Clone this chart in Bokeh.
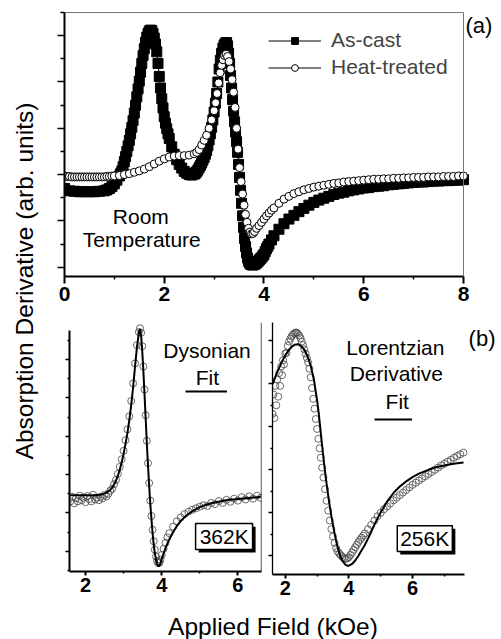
from bokeh.plotting import figure
from bokeh.models import (Range1d, FixedTicker, Label, Legend, LegendItem, Span,
                          BoxAnnotation, LinearAxis)
from bokeh.layouts import row, column
from bokeh.embed import file_html
from bokeh.resources import INLINE

FONT = "Liberation Sans"

# ---------------- (a) room temperature spectra ----------------
AC_X = [0.00, 0.10, 0.20, 0.30, 0.40, 0.50, 0.60, 0.70, 0.80, 0.85,
        0.90, 0.95, 1.00, 1.05, 1.100, 1.125, 1.150, 1.175, 1.200, 1.225,
        1.250, 1.275, 1.300, 1.325, 1.350, 1.375, 1.400, 1.425, 1.450, 1.475,
        1.500, 1.525, 1.550, 1.575, 1.600, 1.625, 1.650, 1.675, 1.700, 1.725,
        1.750, 1.775, 1.800, 1.825, 1.850, 1.875, 1.900, 1.925, 1.950, 1.975,
        2.000, 2.025, 2.050, 2.075, 2.100, 2.15, 2.20, 2.25, 2.30, 2.35,
        2.40, 2.45, 2.50, 2.55, 2.600, 2.625, 2.650, 2.675, 2.700, 2.725,
        2.750, 2.775, 2.800, 2.825, 2.850, 2.875, 2.900, 2.925, 2.950, 2.975,
        3.000, 3.025, 3.050, 3.075, 3.100, 3.125, 3.150, 3.175, 3.200, 3.225,
        3.250, 3.270, 3.290, 3.310, 3.330, 3.350, 3.370, 3.390, 3.410, 3.430,
        3.450, 3.470, 3.490, 3.510, 3.530, 3.550, 3.570, 3.590, 3.610, 3.630,
        3.650, 3.670, 3.690, 3.710, 3.735, 3.760, 3.785, 3.810, 3.835, 3.860,
        3.885, 3.910, 3.935, 3.960, 3.980, 4.000, 4.025, 4.050, 4.075, 4.100,
        4.15, 4.20, 4.30, 4.40, 4.50, 4.60, 4.70, 4.80, 4.90, 5.00,
        5.10, 5.20, 5.30, 5.40, 5.50, 5.60, 5.70, 5.80, 5.90, 6.00,
        6.10, 6.20, 6.30, 6.40, 6.50, 6.60, 6.70, 6.80, 6.90, 7.00,
        7.10, 7.20, 7.30, 7.40, 7.50, 7.60, 7.70, 7.80, 7.90, 8.00]
AC_Y = [-0.30, -0.35, -0.36, -0.37, -0.37, -0.37, -0.37, -0.36, -0.35, -0.33,
        -0.30, -0.26, -0.20, -0.12, -0.03, 0.02, 0.08, 0.17, 0.28, 0.39,
        0.50, 0.62, 0.74, 0.88, 1.02, 1.17, 1.33, 1.50, 1.68, 1.85,
        2.02, 2.21, 2.40, 2.57, 2.72, 2.86, 2.97, 3.05, 3.10, 3.12,
        3.11, 3.05, 2.95, 2.82, 2.65, 2.40, 2.12, 1.87, 1.64, 1.44,
        1.25, 1.11, 0.99, 0.88, 0.78, 0.60, 0.44, 0.32, 0.22, 0.14,
        0.07, 0.03, 0.00, -0.01, 0.01, 0.03, 0.06, 0.10, 0.15, 0.20,
        0.25, 0.31, 0.37, 0.44, 0.52, 0.62, 0.75, 0.88, 1.02, 1.18,
        1.35, 1.54, 1.75, 2.00, 2.28, 2.47, 2.62, 2.73, 2.80, 2.84,
        2.85, 2.78, 2.62, 2.40, 2.14, 1.87, 1.62, 1.37, 1.14, 0.92,
        0.71, 0.48, 0.22, -0.06, -0.34, -0.62, -0.89, -1.14, -1.38, -1.55,
        -1.69, -1.80, -1.87, -1.91, -1.94, -1.95, -1.95, -1.94, -1.92, -1.90,
        -1.87, -1.84, -1.81, -1.78, -1.75, -1.72, -1.66, -1.60, -1.55, -1.50,
        -1.41, -1.32, -1.18, -1.06, -0.96, -0.88, -0.80, -0.73, -0.66, -0.60,
        -0.55, -0.51, -0.47, -0.43, -0.40, -0.38, -0.35, -0.33, -0.31, -0.29,
        -0.28, -0.26, -0.25, -0.24, -0.22, -0.21, -0.20, -0.19, -0.18, -0.17,
        -0.16, -0.16, -0.15, -0.14, -0.14, -0.13, -0.13, -0.12, -0.12, -0.11]

HT_X = [0.00, 0.05, 0.10, 0.15, 0.20, 0.25, 0.30, 0.35, 0.40, 0.45,
        0.50, 0.55, 0.60, 0.65, 0.70, 0.75, 0.80, 0.85, 0.90, 0.95,
        1.00, 1.10, 1.20, 1.30, 1.40, 1.50, 1.60, 1.70, 1.80, 1.90,
        2.00, 2.10, 2.20, 2.30, 2.40, 2.50, 2.60, 2.65, 2.70, 2.75,
        2.80, 2.85, 2.90, 2.95, 3.00, 3.03, 3.06, 3.09, 3.12, 3.15,
        3.18, 3.21, 3.24, 3.27, 3.30, 3.33, 3.36, 3.39, 3.42, 3.45,
        3.48, 3.51, 3.54, 3.57, 3.60, 3.63, 3.66, 3.69, 3.72, 3.75,
        3.78, 3.81, 3.85, 3.90, 3.95, 4.00, 4.05, 4.10, 4.15, 4.20,
        4.30, 4.40, 4.50, 4.60, 4.70, 4.80, 4.90, 5.00, 5.10, 5.20,
        5.30, 5.40, 5.50, 5.60, 5.70, 5.80, 5.90, 6.00, 6.10, 6.20,
        6.30, 6.40, 6.50, 6.60, 6.70, 6.80, 6.90, 7.00, 7.10, 7.20,
        7.30, 7.40, 7.50, 7.60, 7.70, 7.80, 7.90, 8.00]
HT_Y = [-0.03, -0.04, -0.04, -0.05, -0.05, -0.05, -0.05, -0.05, -0.05, -0.05,
        -0.05, -0.05, -0.05, -0.05, -0.05, -0.05, -0.05, -0.04, -0.04, -0.03,
        -0.03, -0.02, 0.00, 0.02, 0.05, 0.08, 0.12, 0.17, 0.23, 0.29,
        0.34, 0.38, 0.40, 0.41, 0.41, 0.42, 0.45, 0.48, 0.54, 0.64,
        0.74, 0.85, 1.00, 1.18, 1.38, 1.55, 1.75, 1.98, 2.20, 2.36,
        2.48, 2.57, 2.60, 2.55, 2.44, 2.28, 2.05, 1.78, 1.45, 1.00,
        0.55, 0.15, -0.15, -0.42, -0.66, -0.86, -1.03, -1.16, -1.24, -1.28,
        -1.27, -1.23, -1.16, -1.10, -1.03, -0.96, -0.89, -0.83, -0.77, -0.72,
        -0.62, -0.53, -0.47, -0.41, -0.37, -0.33, -0.30, -0.27, -0.25, -0.23,
        -0.21, -0.19, -0.18, -0.16, -0.15, -0.14, -0.13, -0.12, -0.11, -0.10,
        -0.10, -0.09, -0.09, -0.08, -0.08, -0.07, -0.07, -0.06, -0.06, -0.06,
        -0.05, -0.05, -0.05, -0.04, -0.04, -0.04, -0.03, -0.03]

# ---------------- (b) 362 K, Dysonian fit ----------------
X362 = [1.60, 1.65, 1.70, 1.75, 1.80, 1.85, 1.90, 1.95, 2.00, 2.05,
        2.10, 2.15, 2.20, 2.25, 2.30, 2.35, 2.40, 2.45, 2.50, 2.55,
        2.60, 2.65, 2.70, 2.75, 2.80, 2.85, 2.90, 2.95, 3.00, 3.05,
        3.10, 3.15, 3.20, 3.25, 3.30, 3.35, 3.40, 3.43, 3.46, 3.49,
        3.52, 3.55, 3.58, 3.61, 3.64, 3.67, 3.70, 3.73, 3.76, 3.79,
        3.82, 3.85, 3.88, 3.91, 3.94, 3.97, 4.00, 4.05, 4.10, 4.15,
        4.20, 4.30, 4.40, 4.50, 4.60, 4.70, 4.80, 4.90, 5.00, 5.10,
        5.20, 5.30, 5.40, 5.50, 5.60, 5.70, 5.80, 5.90, 6.00, 6.10,
        6.20, 6.30, 6.40, 6.50, 6.60]
Y362_DATA = [1.30, 1.42, 1.25, 1.38, 1.30, 1.45, 1.33, 1.40, 1.28, 1.44,
             1.36, 1.30, 1.47, 1.35, 1.40, 1.33, 1.42, 1.38, 1.47, 1.43,
             1.50, 1.58, 1.63, 1.75, 1.86, 2.02, 2.20, 2.40, 2.62, 2.90,
             3.18, 3.52, 3.92, 4.38, 4.90, 5.38, 5.72, 5.82, 5.70, 5.35,
             4.82, 4.22, 3.55, 2.88, 2.30, 1.78, 1.32, 0.92, 0.56, 0.26,
             0.04, -0.14, -0.26, -0.31, -0.30, -0.22, -0.10, 0.06, 0.22, 0.36,
             0.47, 0.64, 0.78, 0.88, 0.97, 1.03, 1.08, 1.12, 1.16, 1.20,
             1.18, 1.26, 1.23, 1.31, 1.26, 1.34, 1.29, 1.37, 1.32, 1.41,
             1.35, 1.43, 1.37, 1.45, 1.39]
Y362_FIT = [1.46, 1.46, 1.46, 1.46, 1.46, 1.46, 1.46, 1.46, 1.46, 1.46,
            1.46, 1.46, 1.46, 1.46, 1.47, 1.47, 1.48, 1.49, 1.51, 1.53,
            1.56, 1.60, 1.66, 1.74, 1.84, 1.97, 2.13, 2.32, 2.54, 2.80,
            3.08, 3.42, 3.82, 4.28, 4.82, 5.32, 5.70, 5.80, 5.62, 5.22,
            4.68, 4.08, 3.45, 2.82, 2.25, 1.72, 1.25, 0.85, 0.48, 0.18,
            -0.05, -0.22, -0.33, -0.39, -0.38, -0.31, -0.21, -0.06, 0.08, 0.20,
            0.31, 0.50, 0.66, 0.79, 0.89, 0.97, 1.04, 1.10, 1.15, 1.19,
            1.22, 1.25, 1.27, 1.29, 1.31, 1.33, 1.34, 1.35, 1.36, 1.37,
            1.38, 1.39, 1.40, 1.41, 1.42]

# ---------------- (b) 256 K, Lorentzian derivative fit ----------------
X256_DATA = [1.60, 1.63, 1.66, 1.69, 1.72, 1.75, 1.78, 1.81, 1.84, 1.87,
             1.90, 1.93, 1.96, 2.00, 2.04, 2.08, 2.12, 2.16, 2.20, 2.24,
             2.28, 2.32, 2.36, 2.40, 2.44, 2.48, 2.52, 2.56, 2.60, 2.64,
             2.68, 2.72, 2.76, 2.80, 2.84, 2.88, 2.92, 2.96, 3.00, 3.04,
             3.08, 3.12, 3.16, 3.20, 3.25, 3.30, 3.35, 3.40, 3.45, 3.50,
             3.55, 3.60, 3.65, 3.70, 3.75, 3.80, 3.85, 3.90, 3.95, 4.00,
             4.05, 4.10, 4.15, 4.20, 4.25, 4.30, 4.35, 4.40, 4.45, 4.50,
             4.60, 4.70, 4.80, 4.90, 5.00, 5.10, 5.20, 5.30, 5.40, 5.50,
             5.60, 5.70, 5.80, 5.90, 6.00, 6.10, 6.20, 6.30, 6.40, 6.50,
             6.60, 6.70, 6.80, 6.90, 7.00, 7.10, 7.20, 7.30, 7.40, 7.50,
             7.60]
Y256_DATA = [3.30, 3.75, 3.20, 3.95, 3.50, 4.10, 3.70, 4.25, 3.95, 4.40,
             4.20, 4.55, 4.45, 4.70, 4.72, 4.88, 4.98, 5.05, 5.10, 5.14,
             5.17, 5.19, 5.19, 5.16, 5.12, 5.06, 4.98, 4.90, 4.80, 4.70,
             4.60, 4.50, 4.35, 4.15, 3.90, 3.65, 3.42, 3.18, 2.95, 2.72,
             2.50, 2.28, 2.05, 1.82, 1.55, 1.28, 1.05, 0.82, 0.62, 0.45,
             0.30, 0.18, 0.10, 0.05, 0.01, -0.03, -0.06, -0.07, -0.06, -0.03,
             0.02, 0.08, 0.14, 0.20, 0.26, 0.32, 0.37, 0.42, 0.47, 0.52,
             0.62, 0.72, 0.82, 0.92, 1.00, 1.08, 1.15, 1.22, 1.29, 1.35,
             1.41, 1.47, 1.53, 1.59, 1.65, 1.70, 1.75, 1.80, 1.85, 1.90,
             1.95, 2.00, 2.05, 2.10, 2.14, 2.19, 2.23, 2.28, 2.32, 2.36,
             2.40]
X256_FIT = [1.60, 1.70, 1.80, 1.90, 2.00, 2.10, 2.20, 2.30, 2.40, 2.50,
            2.60, 2.70, 2.80, 2.90, 3.00, 3.05, 3.10, 3.15, 3.20, 3.25,
            3.30, 3.35, 3.40, 3.45, 3.50, 3.55, 3.60, 3.65, 3.70, 3.75,
            3.80, 3.85, 3.90, 3.95, 4.00, 4.10, 4.20, 4.30, 4.40, 4.50,
            4.60, 4.70, 4.80, 4.90, 5.00, 5.20, 5.40, 5.60, 5.80, 6.00,
            6.20, 6.40, 6.60, 6.80, 7.00, 7.20, 7.40, 7.60]
Y256_FIT = [3.99, 4.18, 4.36, 4.52, 4.66, 4.77, 4.86, 4.91, 4.92, 4.88,
            4.79, 4.64, 4.42, 4.10, 3.62, 3.33, 2.98, 2.62, 2.28, 1.96,
            1.67, 1.40, 1.15, 0.92, 0.72, 0.52, 0.34, 0.19, 0.06, -0.05,
            -0.12, -0.17, -0.21, -0.23, -0.23, -0.19, -0.11, 0.00, 0.13, 0.25,
            0.40, 0.56, 0.72, 0.87, 1.01, 1.26, 1.46, 1.61, 1.73, 1.83,
            1.91, 1.97, 2.03, 2.07, 2.10, 2.13, 2.15, 2.17]

X_TICKS_A = [0, 2, 4, 6, 8]
X_MINOR_A = [1, 3, 5, 7]
Y_TICKS_A = [-2, -1, 0, 1, 2, 3]
Y_MINOR_A = [-1.5, -0.5, 0.5, 1.5, 2.5, 3.5]
X_TICKS_B = [2, 4, 6]
X_MINOR_B1 = [3, 5]
X_MINOR_B2 = [3, 5, 7]
Y_TICKS_B = [0, 1, 2, 3, 4, 5]
Y_MINOR_B1 = [-0.5, 0.5, 1.5, 2.5, 3.5, 4.5, 5.5]
Y_MINOR_B2 = [0.5, 1.5, 2.5, 3.5, 4.5]


def make_fig(fw, fh, xr, yr, bl, br, bt, bb):
    p = figure(frame_width=fw, frame_height=fh,
               x_range=Range1d(*xr), y_range=Range1d(*yr),
               output_backend="svg", toolbar_location=None,
               min_border_left=bl, min_border_right=br,
               min_border_top=bt, min_border_bottom=bb)
    p.xgrid.visible = False
    p.ygrid.visible = False
    p.outline_line_color = None
    p.background_fill_color = "white"
    p.border_fill_color = "white"
    return p


def style_axes(p, xt, xm, yt, ym, xfs, xtick, ytick, xlw, ylw, standoff):
    ax = p.xaxis[0]
    ax.ticker = FixedTicker(ticks=xt, minor_ticks=xm)
    ax.axis_line_width = xlw
    ax.major_tick_in = 0
    ax.major_tick_out = xtick[0]
    ax.minor_tick_in = 0
    ax.minor_tick_out = xtick[1]
    ax.major_tick_line_width = xlw
    ax.minor_tick_line_width = 1.5
    ax.major_label_text_font = FONT
    ax.major_label_text_font_size = xfs
    ax.major_label_text_font_style = "bold"
    ax.major_label_text_color = "black"
    ax.major_label_standoff = standoff
    ay = p.yaxis[0]
    ay.ticker = FixedTicker(ticks=yt, minor_ticks=ym)
    ay.axis_line_width = ylw
    ay.major_tick_in = 0
    ay.major_tick_out = ytick[0]
    ay.minor_tick_in = 0
    ay.minor_tick_out = ytick[1]
    ay.major_tick_line_width = 1.5
    ay.minor_tick_line_width = 1.5
    ay.major_label_text_font_size = "1px"
    ay.major_label_text_color = None
    ay.major_label_standoff = 0


def text(p, x, y, s, size="21px", align="center"):
    p.add_layout(Label(x=x, y=y, text=s, text_font=FONT, text_font_size=size,
                       text_align=align, text_baseline="middle",
                       text_color="black"))


def underline(p, r, loc, w):
    p.add_layout(Legend(items=[LegendItem(label=" ", renderers=[r])],
                        location=loc, glyph_width=w, glyph_height=10,
                        label_standoff=0, label_width=0, label_height=6,
                        label_text_font_size="1px", label_text_color=None,
                        padding=0, margin=0, border_line_color=None,
                        background_fill_alpha=0))


# ---------------- top panel (a) ----------------
pa = make_fig(437, 264, (0, 8.762), (-2.2, 3.5), 20, 0, 12, 34)
style_axes(pa, X_TICKS_A, X_MINOR_A, Y_TICKS_A, Y_MINOR_A, "21px", (7, 3), (7, 4), 2, 2, 3)
pa.xaxis[0].bounds = (0, 8)
top_border = LinearAxis(ticker=FixedTicker(ticks=[]), bounds=(0, 8),
                        axis_line_color="#777777", axis_line_width=1,
                        major_tick_out=0, major_tick_in=0, minor_tick_out=0, minor_tick_in=0,
                        major_label_text_font_size="1px", major_label_text_color=None,
                        major_label_standoff=0)
pa.add_layout(top_border, "above")
pa.add_layout(Span(location=8, dimension="height", line_color="#777777", line_width=1))

ac_line = pa.line(AC_X, AC_Y, line_color="black", line_width=1)
ac_pts = pa.scatter(AC_X, AC_Y, marker="square", size=10, fill_color="black", line_color="black")
ht_line = pa.line(HT_X, HT_Y, line_color="black", line_width=1)
ht_pts = pa.scatter(HT_X, HT_Y, marker="circle", size=8, fill_color="white",
                    line_color="black", line_width=1)

leg = Legend(items=[LegendItem(label="As-cast", renderers=[ac_line, ac_pts]),
                    LegendItem(label="Heat-treated", renderers=[ht_line, ht_pts])],
             location=(204, 197), glyph_width=53, glyph_height=17, label_standoff=10,
             spacing=3, padding=0, margin=0, border_line_color=None,
             background_fill_alpha=0, label_text_font=FONT, label_text_font_size="21px",
             label_height=22)
pa.add_layout(leg)

text(pa, 1.53, -0.90, "Room")
text(pa, 1.55, -1.41, "Temperature")
text(pa, 8.04, 3.23, "(a)", size="22px", align="left")

# ---------------- bottom left: 362K ----------------
pb1 = make_fig(192, 249, (1.58, 6.62), (-0.53, 5.97), 25, 4, 12, 31)
style_axes(pb1, X_TICKS_B, X_MINOR_B1, Y_TICKS_B, Y_MINOR_B1, "20px", (4, 2), (4, 2), 2, 2, 2)
pb1.yaxis[0].bounds = (-0.53, 5.77)
pb1.add_layout(Span(location=6.62, dimension="height", line_color="black", line_width=1.3))

pb1.scatter(X362, Y362_DATA, marker="circle", size=7, fill_color=None,
            line_color="#444444", line_width=0.8)
fit1 = pb1.line(X362, Y362_FIT, line_color="black", line_width=2)

text(pb1, 5.19, 5.23, "Dysonian")
text(pb1, 5.20, 4.53, "Fit")
underline(pb1, fit1, (116, 175), 42)

pb1.add_layout(BoxAnnotation(left=4.97, right=6.465, top=0.64, bottom=-0.034,
                             fill_color="black", fill_alpha=1, line_color=None))
pb1.add_layout(BoxAnnotation(left=4.89, right=6.386, top=0.72, bottom=0.044,
                             fill_color="white", fill_alpha=1, line_color="black",
                             line_alpha=1, line_width=1.5))
text(pb1, 5.64, 0.384, "362K")

# ---------------- bottom right: 256K ----------------
pb2 = make_fig(229, 252, (1.60, 8.794), (-0.435, 5.425), 7, 0, 10, 30)
style_axes(pb2, X_TICKS_B, X_MINOR_B2, Y_TICKS_B, Y_MINOR_B2, "20px", (4, 2), (4, 2), 2, 1.3, 2)
pb2.xaxis[0].bounds = (1.60, 7.63)

pb2.scatter(X256_DATA, Y256_DATA, marker="circle", size=7, fill_color=None,
            line_color="#444444", line_width=0.8)
fit2 = pb2.line(X256_FIT, Y256_FIT, line_color="black", line_width=2)

text(pb2, 5.46, 4.85, "Lorentzian")
text(pb2, 5.49, 4.23, "Derivative")
text(pb2, 5.52, 3.59, "Fit")
text(pb2, 7.76, 5.05, "(b)", size="22px", align="left")
underline(pb2, fit2, (102, 150), 38)

pb2.add_layout(BoxAnnotation(left=5.614, right=7.344, top=0.63, bottom=0.03,
                             fill_color="black", fill_alpha=1, line_color=None))
pb2.add_layout(BoxAnnotation(left=5.52, right=7.25, top=0.70, bottom=0.10,
                             fill_color="white", fill_alpha=1, line_color="black",
                             line_alpha=1, line_width=1.5))
text(pb2, 6.38, 0.40, "256K")

# ---------------- shared axis titles ----------------
ylab = figure(width=44, height=639, x_range=Range1d(0, 44), y_range=Range1d(0, 639),
              x_axis_type=None, y_axis_type=None, output_backend="svg",
              toolbar_location=None, min_border=0)
ylab.outline_line_color = None
ylab.xgrid.visible = False
ylab.ygrid.visible = False
ylab.add_layout(Label(x=24, y=358.5, text="Absorption Derivative (arb. units)",
                      angle=90, angle_units="deg", text_font=FONT,
                      text_font_size="24.5px", text_align="center",
                      text_baseline="middle", text_color="black"))

xlab = figure(width=457, height=37, x_range=Range1d(0, 457), y_range=Range1d(0, 37),
              x_axis_type=None, y_axis_type=None, output_backend="svg",
              toolbar_location=None, min_border=0)
xlab.outline_line_color = None
xlab.xgrid.visible = False
xlab.ygrid.visible = False
xlab.add_layout(Label(x=218, y=13, text="Applied Field (kOe)", text_font=FONT,
                      text_font_size="24.5px", text_align="center",
                      text_baseline="middle", text_color="black"))

layout = row(ylab, column(pa, row(pb1, pb2), xlab))

open("out.html", "w").write(file_html(layout, INLINE))
